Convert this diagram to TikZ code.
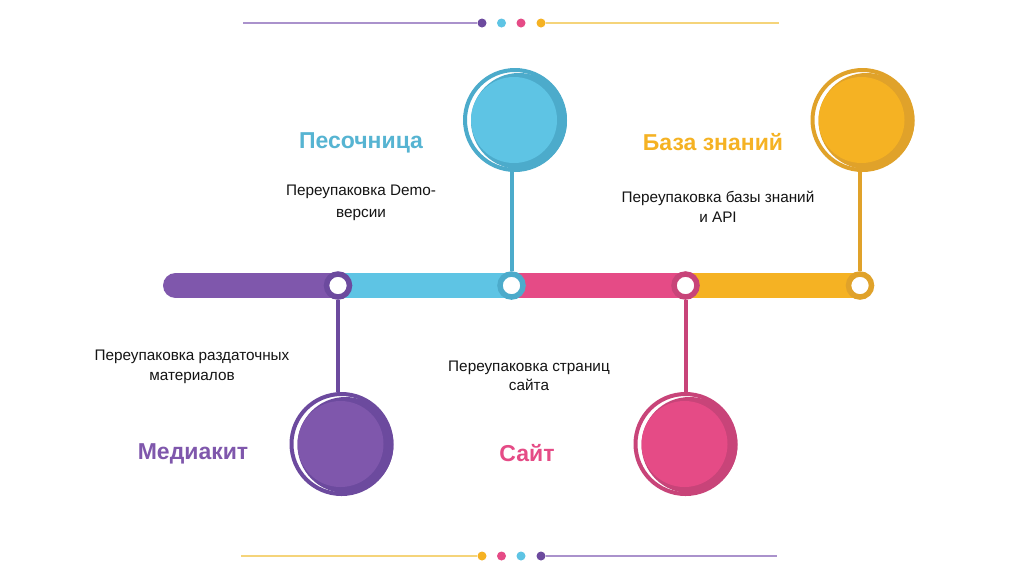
\documentclass[tikz,border=0pt]{standalone}
\usepackage{fontspec}
\setmainfont{Liberation Sans}
\definecolor{pL}{RGB}{127,87,172}
\definecolor{pD}{RGB}{108,74,158}
\definecolor{cL}{RGB}{94,196,228}
\definecolor{cD}{RGB}{76,171,203}
\definecolor{kL}{RGB}{229,75,134}
\definecolor{kD}{RGB}{200,68,121}
\definecolor{yL}{RGB}{245,178,35}
\definecolor{yD}{RGB}{224,162,42}
\definecolor{pLine}{RGB}{170,146,204}
\definecolor{yLine}{RGB}{245,212,122}
\definecolor{txt}{RGB}{20,20,20}
\tikzset{
  bar/.style={line width=25pt},
  marker/.style={circle, fill=white, draw=#1, line width=5.5pt, minimum size=23pt, inner sep=0pt},
  stem/.style={line width=4pt, draw=#1},
  bigring/.style={circle, draw=#1, line width=4pt, minimum size=100pt, inner sep=0pt},
  title/.style={font=\bfseries\fontsize{23}{27}\selectfont, text=#1},
  desc/.style={font=\fontsize{15.3}{20.5}\selectfont, text=txt, align=center},
  deco/.style={line width=2pt, draw=#1},
  dot/.style={circle, fill=#1, minimum size=9pt, inner sep=0pt},
}
\newcommand{\bubble}[5]{% name, x, y, dark, light
  \fill[#4] (#2+4,#3+1) circle[radius=48pt];
  \fill[#5] (#2-1,#3) circle[radius=43pt];
  \node[bigring=#4] (#1) at (#2,#3) {};
}
\begin{document}
\begin{tikzpicture}[x=1pt,y=-1pt]
\useasboundingbox[fill=white] (0,0) rectangle (1024,574);

% decorations top
\node[dot=pD] (t1) at (482,23) {};
\node[dot=cL] (t2) at (501.5,23) {};
\node[dot=kL] (t3) at (521,23) {};
\node[dot=yL] (t4) at (541,23) {};
\coordinate (tl) at (243,23);
\coordinate (tr) at (779,23);
\draw[deco=pLine] (tl) -- (t1);
\draw[deco=yLine] (t4) -- (tr);

% decorations bottom
\node[dot=yL] (b1) at (482,556) {};
\node[dot=kL] (b2) at (501.5,556) {};
\node[dot=cL] (b3) at (521,556) {};
\node[dot=pD] (b4) at (541,556) {};
\coordinate (bl) at (241,556);
\coordinate (br) at (777,556);
\draw[deco=yLine] (bl) -- (b1);
\draw[deco=pLine] (b4) -- (br);

% main bar
\coordinate (s0) at (175.5,285.5);
\coordinate (p1) at (338,285.5);
\coordinate (p2) at (511.5,285.5);
\coordinate (p3) at (685.5,285.5);
\coordinate (p4) at (860,285.5);
\draw[bar, pL, line cap=round] (s0) -- (p1);
\draw[bar, cL] (p1) -- (p2);
\draw[bar, kL] (p2) -- (p3);
\draw[bar, yL] (p3) -- (p4);

% bubbles
\bubble{c1}{341.5}{444}{pD}{pL}
\bubble{c2}{515}{120}{cD}{cL}
\bubble{c3}{685.5}{444}{kD}{kL}
\bubble{c4}{862.5}{120}{yD}{yL}

% markers
\node[marker=pD] (r1) at (p1) {};
\node[marker=cD] (r2) at (p2) {};
\node[marker=kD] (r3) at (p3) {};
\node[marker=yD] (r4) at (p4) {};

% stems
\draw[stem=pD] (r1) -- (r1 |- c1.north);
\draw[stem=cD] (r2) -- (r2 |- c2.south);
\draw[stem=kD] (r3) -- (r3 |- c3.north);
\draw[stem=yD] (r4) -- (r4 |- c4.south);

% titles
\node[title={cL!92!black}] (h2) at (361,142.5) {Песочница};
\node[title=yL] (h4) at (713,142) {База знаний};
\node[title=pL] (h1) at (193,453.5) {Медиакит};
\node[title=kL] (h3) at (527,453) {Сайт};

% descriptions
\node[desc, font=\fontsize{15.3}{22}\selectfont] (d2) at (361,203) {Переупаковка Demo-\\версии};
\node[desc] (d4) at (718,207) {Переупаковка базы знаний\\и API};
\node[desc] (d1) at (192,367) {Переупаковка раздаточных\\материалов};
\node[desc, font=\fontsize{15.3}{19}\selectfont] (d3) at (529,376) {Переупаковка страниц\\сайта};
\end{tikzpicture}
\end{document}
